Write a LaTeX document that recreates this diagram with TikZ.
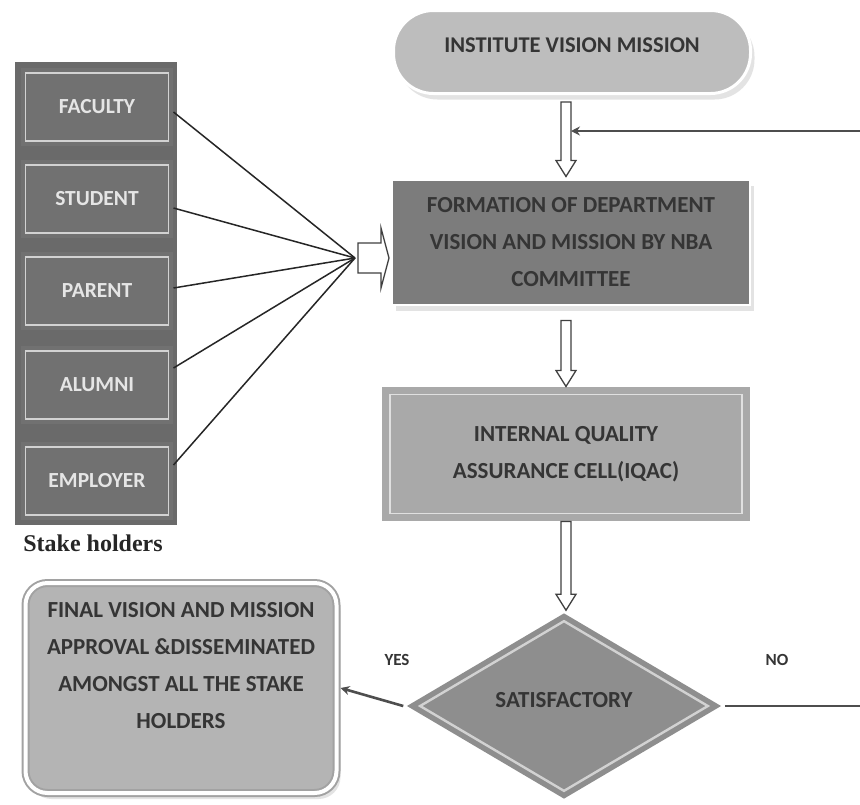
\documentclass[tikz,border=0pt]{standalone}
\usepackage{fontspec}
\setmainfont{Carlito}
\newfontfamily\captionserif{Liberation Serif}
\usetikzlibrary{shapes.geometric,calc,shadows,arrows.meta}

\definecolor{groupgray}{HTML}{6A6A6A}
\definecolor{stakegray}{HTML}{717171}
\definecolor{ringlight}{HTML}{D2D2D2}
\definecolor{termgray}{HTML}{BDBDBD}
\definecolor{formgray}{HTML}{7C7C7C}
\definecolor{iqacgray}{HTML}{A9A9A9}
\definecolor{diagray}{HTML}{8E8E8E}
\definecolor{fingray}{HTML}{B4B4B4}
\definecolor{finedge}{HTML}{A2A2A2}
\definecolor{inktext}{HTML}{353535}
\definecolor{linegray}{HTML}{4E4E4E}
\definecolor{shadowgray}{HTML}{C9C9C9}

% hollow block arrow pointing down, from #1 to the tip at #2
\newcommand{\downblock}[2]{%
  \draw[blockarrow] let \p1=(#1), \p2=(#2) in
    (\x1-5pt,\y1) -- (\x1+5pt,\y1) -- (\x1+5pt,\y2+16pt) -- (\x1+10pt,\y2+16pt)
    -- (\x1,\y2) -- (\x1-10pt,\y2+16pt) -- (\x1-5pt,\y2+16pt) -- cycle;}
% hollow block arrow pointing right, from #1 to the tip at #2
\newcommand{\rightblock}[2]{%
  \draw[blockarrow] let \p1=(#1), \p2=(#2) in
    (\x1,\y1+15pt) -- (\x2-8pt,\y1+15pt) -- (\x2-8pt,\y1+30pt) -- (\x2,\y1)
    -- (\x2-8pt,\y1-30pt) -- (\x2-8pt,\y1-15pt) -- (\x1,\y1-15pt) -- cycle;}

\begin{document}
\begin{tikzpicture}[x=1pt,y=-1pt,
  bigtext/.style={font=\bfseries\fontsize{23}{37}\selectfont, text=inktext, align=center},
  stakebox/.style={rectangle, fill=stakegray, draw=stakegray, double=ringlight,
    line width=4pt, double distance=1.6pt, minimum width=143pt, minimum height=68pt,
    outer sep=5pt, inner sep=0pt, text=white!90!black, font=\bfseries\fontsize{21.5}{24}\selectfont},
  shade box/.style={drop shadow={shadow xshift=4pt, shadow yshift=-6pt, fill=shadowgray}},
  fanline/.style={draw=black!85, line width=1.5pt},
  blockarrow/.style={draw=black!75, line width=1.3pt, fill=white, line join=miter},
  flowline/.style={draw=linegray, line width=2.6pt},
  tip/.style={-{Stealth[length=9pt,width=9pt]}}]

\useasboundingbox (0,0) rectangle (860,804);
\clip (0,0) rectangle (860,804);
\fill[white] (0,0) rectangle (860,804);

% stakeholder column
\fill[groupgray] (15,62) rectangle (177,525);
\node[stakebox] (fac) at (97,107) {FACULTY};
\node[stakebox] (stu) at (97,199) {STUDENT};
\node[stakebox] (par) at (97,291) {PARENT};
\node[stakebox] (alu) at (97,385) {ALUMNI};
\node[stakebox] (emp) at (97,481) {EMPLOYER};
\node[font=\captionserif\bfseries\fontsize{24}{27}\selectfont, text=black!85] (caption) at (93,543) {Stake holders};

% main flow
\node[rectangle, rounded corners=40pt, fill=termgray, draw=white, line width=3pt,
  minimum width=357pt, minimum height=83pt, text depth=14pt, shade box,
  bigtext, font=\bfseries\fontsize{22.5}{37}\selectfont] (ivm) at (572,52) {INSTITUTE VISION MISSION};

\node[rectangle, fill=formgray, draw=white, line width=2pt, shade box,
  minimum width=358pt, minimum height=125pt, bigtext] (form) at (571,242)
  {FORMATION OF DEPARTMENT\\VISION AND MISSION BY NBA\\COMMITTEE};

\node[rectangle, fill=iqacgray, draw=iqacgray, double=white!88!black,
  line width=7pt, double distance=1.8pt, minimum width=352pt, minimum height=119pt,
  outer sep=8pt, bigtext] (iqac) at (566,454)
  {INTERNAL QUALITY\\ASSURANCE CELL(IQAC)};

\node[diamond, fill=diagray, draw=diagray, double=ringlight, line width=5.5pt,
  double distance=2.4pt, minimum width=290pt, minimum height=172pt, inner sep=0pt,
  text depth=12pt, bigtext] (dia) at (564,706) {SATISFACTORY};

\node[rectangle, rounded corners=22pt, fill=fingray, draw=finedge, double=white,
  line width=2pt, double distance=4pt, minimum width=311pt, minimum height=210pt,
  outer sep=4pt, shade box] (fin) at (181,688) {};
\node[bigtext] (fintext) at (181,666)
  {FINAL VISION AND MISSION\\APPROVAL \&DISSEMINATED\\AMONGST ALL THE STAKE\\HOLDERS};

\node[font=\bfseries\fontsize{17}{20}\selectfont, text=inktext] (yes) at (397,660) {YES};
\node[font=\bfseries\fontsize{17}{20}\selectfont, text=inktext] (no) at (777,660) {NO};

% stakeholders feed the committee
\coordinate (hub) at (355,258);
\draw[fanline] ([yshift=-5pt]fac.east) -- (hub);
\draw[fanline] ([yshift=-9pt]stu.east) -- (hub);
\draw[fanline] ([yshift=3pt]par.east) -- (hub);
\draw[fanline] ([yshift=17pt]alu.east) -- (hub);
\draw[fanline] ([yshift=16pt]emp.east) -- (hub);
\rightblock{[xshift=3pt]hub}{[xshift=-2pt]form.west}

% downward flow
\downblock{[yshift=-7pt]ivm.south -| iqac.center}{[yshift=2pt]form.north -| iqac.center}
\downblock{[yshift=-15pt]form.south -| iqac.center}{iqac.north}
\downblock{iqac.south}{[yshift=7pt]dia.north}

% decision outcomes
\draw[flowline, tip] ([xshift=-13pt]dia.west) -- (fin.east);
\coordinate (fbcorner) at (885,131);
\coordinate (fbin) at (571,131);
\draw[flowline, tip] ([xshift=13pt]dia.east) -| (fbcorner) -- (fbin);

\end{tikzpicture}
\end{document}
